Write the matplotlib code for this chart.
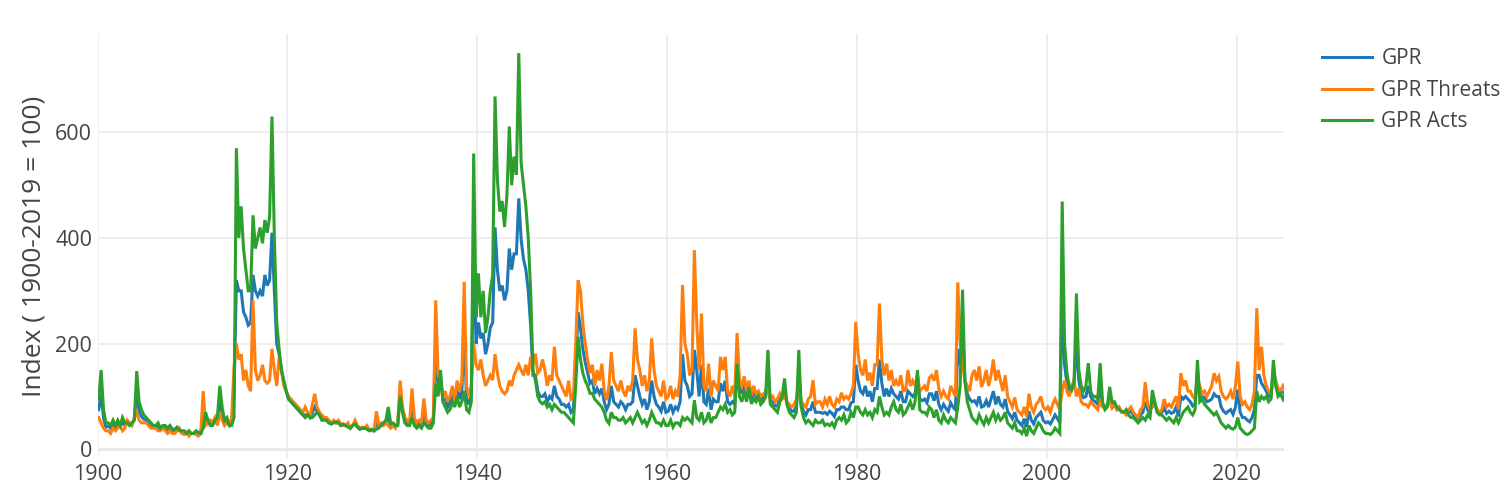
import numpy as np
import matplotlib
matplotlib.use("Agg")
import matplotlib.pyplot as plt

plt.rcParams['font.family'] = ['Open Sans', 'DejaVu Sans']

# Quarterly readings, 1900 Q1 .. 2025 Q1
gpr = [
    75, 105, 60, 42, 44, 40, 48, 40, 48, 45, 50, 45, 52, 48, 48, 57, 110, 72, 62, 57,
    55, 50, 45, 42, 42, 42, 38, 42, 40, 35, 40, 34, 34, 38, 37, 32, 32, 31, 30, 30,
    30, 31, 29, 30, 75, 55, 52, 50, 48, 58, 55, 95, 68, 50, 55, 46, 52, 100, 320, 300,
    300, 260, 250, 235, 240, 330, 300, 290, 300, 290, 330, 310, 320, 410, 300, 200, 180, 150, 125, 110,
    95, 90, 85, 80, 75, 70, 65, 65, 65, 60, 70, 80, 72, 65, 60, 57, 55, 50, 48, 52,
    50, 50, 45, 46, 45, 45, 40, 45, 50, 43, 38, 40, 40, 40, 36, 36, 35, 50, 42, 47,
    47, 52, 60, 45, 47, 42, 47, 110, 75, 55, 50, 47, 85, 52, 45, 50, 45, 70, 50, 45,
    48, 55, 200, 120, 140, 95, 95, 80, 90, 105, 85, 115, 95, 110, 220, 95, 85, 105, 380, 200,
    240, 210, 220, 180, 200, 230, 240, 420, 339, 300, 310, 282, 300, 380, 340, 370, 370, 475, 397, 360,
    340, 300, 235, 140, 140, 110, 100, 100, 105, 90, 100, 95, 120, 100, 95, 85, 85, 80, 85, 70,
    75, 160, 260, 230, 190, 165, 145, 125, 130, 105, 115, 105, 115, 90, 75, 85, 120, 90, 85, 80,
    90, 85, 75, 85, 85, 90, 140, 120, 100, 85, 95, 75, 90, 130, 100, 85, 80, 72, 90, 70,
    72, 85, 70, 80, 75, 90, 180, 130, 120, 100, 105, 188, 150, 100, 160, 90, 85, 115, 75, 95,
    90, 90, 125, 110, 130, 90, 85, 90, 85, 190, 115, 105, 125, 100, 125, 95, 108, 98, 105, 92,
    98, 100, 150, 90, 90, 82, 82, 97, 97, 115, 88, 78, 72, 72, 82, 150, 85, 72, 65, 75,
    75, 90, 70, 70, 70, 68, 70, 66, 72, 68, 62, 75, 75, 80, 80, 75, 75, 88, 90, 160,
    130, 110, 105, 120, 100, 110, 90, 115, 115, 170, 125, 100, 115, 100, 115, 105, 100, 95, 110, 90,
    90, 110, 105, 100, 105, 140, 95, 92, 95, 88, 105, 105, 92, 110, 85, 75, 85, 78, 72, 88,
    80, 75, 190, 160, 230, 130, 105, 95, 90, 92, 85, 100, 80, 82, 92, 80, 95, 110, 85, 100,
    85, 80, 95, 72, 65, 58, 70, 55, 50, 45, 58, 42, 72, 55, 48, 60, 65, 70, 55, 50,
    52, 48, 56, 65, 58, 50, 300, 160, 125, 110, 115, 128, 200, 130, 105, 98, 100, 120, 100, 93,
    90, 85, 125, 85, 78, 82, 100, 85, 88, 78, 78, 71, 70, 70, 70, 72, 65, 60, 55, 65,
    70, 90, 75, 68, 95, 88, 72, 68, 70, 78, 68, 72, 68, 70, 80, 62, 100, 95, 100, 95,
    90, 82, 85, 150, 105, 100, 98, 90, 92, 95, 105, 100, 100, 80, 72, 68, 72, 75, 66, 80,
    113, 70, 60, 60, 55, 52, 60, 75, 140, 140, 125, 118, 110, 100, 100, 150, 125, 108, 108, 108,
    108,
]

gpr_threats = [
    60, 50, 40, 35, 35, 30, 40, 35, 40, 45, 35, 40, 55, 50, 45, 60, 70, 55, 50, 50,
    50, 45, 40, 40, 40, 35, 35, 40, 35, 30, 35, 30, 30, 35, 40, 30, 28, 32, 25, 30,
    30, 28, 25, 30, 110, 45, 50, 55, 50, 60, 45, 70, 55, 45, 50, 45, 60, 155, 200, 170,
    180, 130, 150, 120, 110, 282, 150, 130, 140, 160, 130, 125, 130, 190, 150, 120, 175, 150, 120, 110,
    100, 95, 90, 85, 80, 75, 70, 80, 70, 60, 85, 105, 80, 70, 65, 60, 60, 55, 50, 55,
    50, 55, 48, 45, 45, 50, 40, 45, 55, 45, 40, 42, 40, 45, 38, 35, 35, 72, 45, 50,
    45, 50, 45, 40, 45, 40, 50, 130, 80, 60, 55, 50, 115, 60, 50, 55, 50, 96, 55, 50,
    55, 60, 282, 140, 130, 100, 110, 90, 100, 120, 90, 130, 110, 130, 317, 120, 100, 120, 200, 160,
    150, 170, 140, 120, 130, 140, 131, 180, 144, 120, 110, 105, 110, 130, 120, 140, 150, 160, 150, 140,
    160, 140, 175, 160, 181, 144, 150, 170, 150, 120, 140, 130, 194, 140, 130, 120, 110, 100, 130, 95,
    100, 200, 320, 300, 238, 200, 170, 144, 160, 120, 150, 130, 162, 110, 93, 120, 184, 130, 120, 110,
    130, 110, 100, 120, 110, 130, 229, 170, 150, 120, 140, 110, 130, 210, 150, 120, 110, 100, 130, 95,
    100, 120, 95, 110, 100, 140, 311, 200, 180, 140, 150, 377, 238, 150, 257, 120, 110, 162, 100, 130,
    120, 110, 175, 150, 175, 110, 100, 120, 100, 220, 130, 120, 138, 110, 130, 101, 120, 105, 110, 100,
    105, 100, 120, 95, 100, 90, 95, 105, 95, 100, 90, 85, 80, 85, 95, 110, 90, 85, 80, 95,
    100, 131, 85, 90, 90, 80, 95, 85, 100, 85, 80, 95, 90, 107, 95, 100, 95, 105, 120, 241,
    181, 150, 140, 170, 130, 145, 120, 160, 160, 276, 170, 140, 162, 130, 150, 120, 130, 120, 140, 110,
    112, 150, 120, 130, 120, 140, 110, 115, 120, 110, 135, 140, 130, 150, 115, 100, 110, 100, 95, 120,
    110, 100, 316, 200, 160, 130, 120, 110, 140, 150, 130, 157, 118, 130, 150, 120, 140, 170, 130, 150,
    130, 110, 140, 100, 90, 80, 98, 75, 70, 65, 80, 62, 105, 80, 70, 85, 90, 100, 80, 75,
    80, 70, 85, 95, 85, 75, 110, 130, 110, 100, 120, 130, 100, 115, 90, 85, 85, 80, 90, 85,
    80, 75, 90, 80, 80, 85, 90, 78, 85, 75, 80, 70, 70, 65, 75, 80, 70, 65, 60, 75,
    80, 127, 85, 75, 80, 85, 75, 70, 75, 95, 80, 85, 80, 90, 100, 75, 144, 120, 130, 110,
    110, 100, 95, 130, 120, 105, 110, 100, 110, 120, 144, 130, 138, 110, 100, 95, 100, 110, 95, 120,
    166, 100, 85, 90, 80, 75, 85, 110, 267, 150, 194, 140, 120, 110, 105, 140, 130, 115, 110, 120,
    110,
]

gpr_acts = [
    95, 150, 75, 50, 50, 45, 55, 45, 55, 45, 60, 50, 50, 45, 50, 55, 148, 90, 75, 65,
    60, 55, 50, 45, 45, 50, 40, 45, 45, 40, 45, 38, 38, 42, 35, 35, 35, 30, 35, 30,
    30, 35, 32, 30, 40, 70, 55, 45, 45, 55, 60, 120, 80, 55, 60, 45, 45, 60, 570, 400,
    460, 380, 340, 300, 300, 443, 380, 400, 420, 390, 434, 410, 440, 630, 400, 240, 190, 150, 130, 110,
    95, 90, 85, 80, 75, 70, 65, 60, 65, 60, 60, 65, 70, 65, 55, 55, 55, 50, 48, 50,
    52, 50, 45, 48, 45, 42, 40, 45, 48, 42, 38, 40, 40, 38, 35, 38, 35, 38, 40, 45,
    50, 55, 80, 50, 50, 45, 45, 100, 70, 50, 45, 45, 60, 45, 40, 45, 40, 50, 45, 40,
    40, 50, 124, 100, 150, 90, 80, 70, 75, 90, 80, 100, 80, 90, 110, 75, 70, 90, 560, 250,
    333, 250, 300, 220, 250, 300, 330, 668, 510, 450, 470, 421, 480, 611, 500, 554, 520, 750, 542, 500,
    460, 400, 300, 150, 131, 100, 90, 86, 90, 80, 85, 75, 85, 80, 75, 70, 70, 65, 60, 55,
    50, 120, 213, 170, 144, 130, 120, 106, 106, 95, 90, 85, 80, 70, 55, 49, 70, 60, 60, 55,
    55, 60, 50, 55, 60, 50, 60, 70, 60, 50, 55, 45, 55, 70, 60, 50, 50, 45, 55, 45,
    45, 55, 42, 50, 50, 45, 60, 55, 60, 55, 50, 93, 60, 55, 70, 50, 55, 70, 50, 60,
    60, 70, 80, 75, 85, 70, 75, 65, 70, 162, 100, 90, 110, 90, 118, 86, 95, 90, 100, 85,
    90, 100, 188, 85, 80, 75, 70, 90, 100, 134, 85, 70, 65, 60, 70, 188, 80, 60, 50, 55,
    50, 45, 55, 50, 50, 55, 45, 48, 45, 50, 42, 55, 60, 55, 65, 50, 55, 70, 60, 80,
    80, 70, 65, 75, 65, 70, 60, 75, 70, 100, 80, 65, 70, 65, 80, 90, 75, 70, 85, 65,
    70, 80, 90, 75, 90, 150, 75, 70, 70, 65, 80, 75, 60, 75, 55, 50, 65, 55, 50, 60,
    55, 50, 80, 120, 302, 130, 90, 75, 60, 55, 50, 65, 55, 47, 60, 50, 60, 70, 55, 65,
    55, 60, 70, 50, 45, 40, 50, 35, 35, 30, 40, 25, 45, 35, 30, 40, 50, 45, 35, 30,
    30, 28, 32, 40, 35, 30, 469, 200, 144, 120, 112, 125, 295, 150, 120, 110, 120, 163, 110, 100,
    100, 95, 163, 90, 75, 80, 118, 90, 90, 80, 75, 72, 70, 75, 65, 60, 60, 55, 50, 55,
    60, 55, 65, 60, 112, 90, 70, 65, 65, 60, 55, 60, 55, 50, 60, 50, 60, 70, 75, 80,
    70, 65, 75, 169, 90, 95, 85, 80, 75, 70, 65, 70, 60, 50, 45, 40, 45, 40, 38, 42,
    60, 40, 35, 30, 28, 30, 35, 40, 110, 90, 100, 95, 100, 90, 95, 169, 120, 100, 105, 95,
    105,
]

labels = ['GPR', 'GPR Threats', 'GPR Acts']
colors = ['#1f77b4', '#ff7f0e', '#2ca02c']
x_ticks = [1900, 1920, 1940, 1960, 1980, 2000, 2020]
y_ticks = [0, 200, 400, 600]

fig = plt.figure(figsize=(15.08, 4.94), dpi=100)
ax = fig.add_axes([0.0647, 0.0729, 0.7868, 0.858])

for series, label, color in zip([gpr, gpr_threats, gpr_acts], labels, colors):
    t = 1900.125 + 0.25 * np.arange(len(series))
    ax.plot(t, series, color=color, lw=2.2, label=label, solid_joinstyle='miter')

ax.set_xlim(1900, 2025)
ax.set_ylim(-16.5, 786)
ax.set_xticks(x_ticks)
ax.set_yticks(y_ticks)
ax.grid(True, color='#ebebeb', lw=1.2)
ax.axhline(0, color='#e3e3e3', lw=2, zorder=0)
ax.set_axisbelow(True)
for s in ax.spines.values():
    s.set_visible(False)
ax.tick_params(length=0, labelsize=15.5, labelcolor='#444444', pad=4)
ax.set_ylabel('Index ( 1900-2019 = 100)', fontsize=19, color='#444444', labelpad=6)

fig.legend(loc='upper left', bbox_to_anchor=(0.8767, 0.902), frameon=False,
           borderaxespad=0, borderpad=0,
           fontsize=15, handlelength=2.4, handletextpad=0.45, labelspacing=0.5,
           labelcolor='#444444')

fig.savefig('out.png', dpi=100)
